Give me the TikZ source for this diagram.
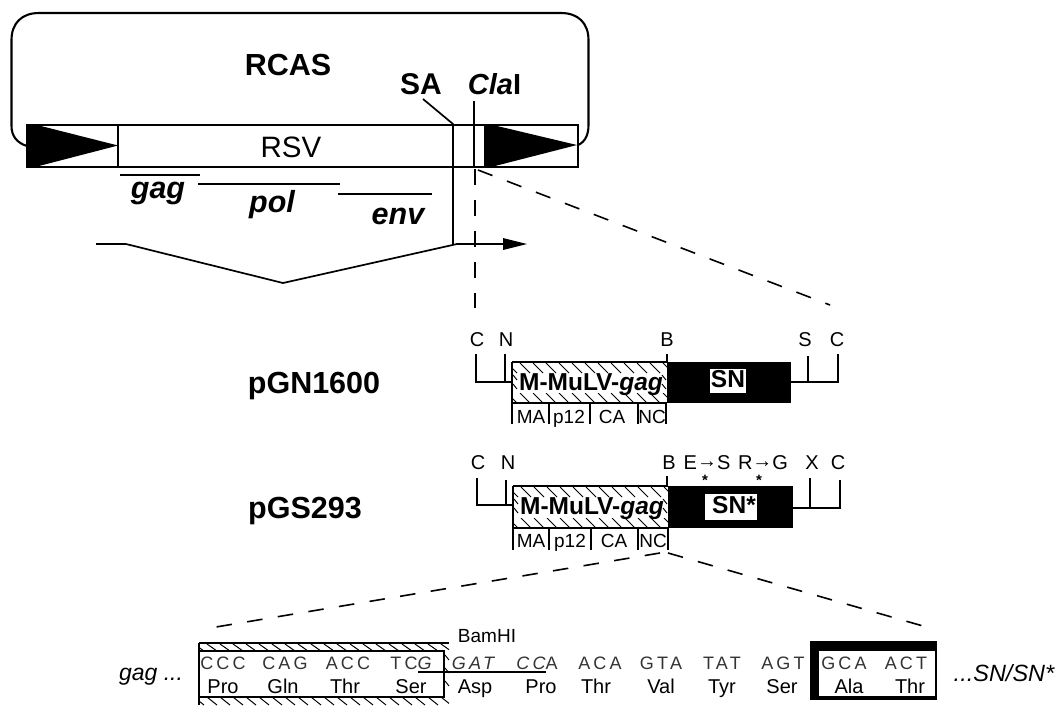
\documentclass[tikz,border=0pt]{standalone}
\usepackage{fontspec}
\setmainfont{Liberation Sans}
\newfontfamily\seqfont[LetterSpace=18]{Liberation Sans}
\newcommand{\hatchrow}[4]{%
  \begin{scope}
    \clip (#1,#3) rectangle (#2,#4);
    \pgfmathsetmacro{\hstart}{#1-6}
    \pgfmathsetmacro{\hnext}{#1+7}
    \foreach \hx in {\hstart,\hnext,...,#2}
      \draw[hatchline] (\hx,#3) -- ++(10,#4-#3);
  \end{scope}}
\newcommand{\fs}[1]{\fontsize{#1}{#1}\selectfont}
\tikzset{
  lab/.style={inner sep=0pt,outer sep=0pt,anchor=base,text=black},
  hatchline/.style={line width=1pt},
  line1/.style={line width=1.7pt,line join=miter},
  line2/.style={line width=2.1pt,line join=miter},
  zoomdash/.style={line width=1.6pt,dash pattern=on 15.5pt off 15.5pt},
  title/.style={lab,font=\fs{30.5}\bfseries},
  gene/.style={lab,font=\fs{30.5}\bfseries\itshape},
  site/.style={lab,font=\fs{20}},
  sub/.style={lab,font=\fs{19}},
  gagt/.style={lab,font=\fs{24.5}\bfseries},
  codon/.style={lab,font=\fs{18}\seqfont,text=black!80},
  amino/.style={lab,font=\fs{20}},
}
\begin{document}
\begin{tikzpicture}[x=1pt,y=-1pt]
\useasboundingbox (0,0) rectangle (1055,705);
\fill[white] (0,0) rectangle (1055,705);

% RCAS outline
\draw[line2] (27,146) .. controls (17,143) and (11.5,136) .. (11.5,126)
  -- (11.5,40) .. controls (11.5,23) and (22,13) .. (39,13)
  -- (561,13) .. controls (578,13) and (588.5,23) .. (588.5,40)
  -- (588.5,125) .. controls (588.5,135) and (585,142) .. (578,145);

% provirus bar
\draw[fill=white,line2] (27.5,125) rectangle (578,167);
\fill[black] (27.5,125) rectangle (39,167);
\fill[black] (39,125.5) -- (118,145.5) -- (39,166) -- cycle;
\fill[black] (484,125) rectangle (495,167);
\fill[black] (495,125.5) -- (577,145) -- (495,166) -- cycle;
\draw[line1] (118,125) -- (118,167);

\node[title] (rcas) at (288,75) {RCAS};
\node[lab,font=\fs{30}\bfseries] (sa) at (421,94) {SA};
\node[lab,font=\fs{29}\bfseries] (cla) at (494.5,94) {\itshape Cla\upshape I};
\node[lab,font=\fs{29.5}] (rsv) at (291,157) {RSV};
\node[gene] (gag) at (158,198) {gag};
\node[gene] (pol) at (272,212) {pol};
\node[gene] (env) at (398,224) {env};

\draw[line1] (120,175) -- (200,175);
\draw[line1] (198,184) -- (340,184);
\draw[line1] (338,194) -- (432,194);

\coordinate (saT) at (423,99);
\coordinate (saB) at (453,124);
\coordinate (saE) at (453,244);
\coordinate (claT) at (474,101);
\coordinate (claB) at (474,167);
\coordinate (claS) at (475,169);
\coordinate (claE) at (475,308);
\coordinate (zoomR) at (830,305);
\coordinate (zoomS) at (478,170);
\draw[line1] (saT) -- (saB) -- (saE);
\draw[line1] (claT) -- (claB);
\draw[zoomdash] (claS) -- (claE);
\draw[zoomdash] (zoomS) -- (zoomR);

% splice
\draw[line1] (96,244) -- (126,244) -- (283,283) -- (457,244) -- (503,244);
\fill[black] (503,238) -- (527,244) -- (503,250) -- cycle;

% pGN1600
\node[title] (pgn) at (314,393) {pGN1600};
\foreach \x/\t/\n in {477/C/a,506/N/b,667/B/c,805/S/d,837/C/e}
  \node[site] (gn\n) at (\x,346) {\t};
\draw[line1] (476,354) -- (476,382) -- (512,382);
\draw[line1] (505,354) -- (505,382);
\draw[line1] (667,354) -- (667,362);
\draw[line1] (791,382) -- (838,382) -- (838,354);
\draw[line1] (808,356) -- (808,382);
\hatchrow{513}{667}{363}{373}
\hatchrow{513}{667}{393}{403}
\foreach \hy in {375,384}
  \draw[hatchline] (513,\hy) -- ++(4,5) (662,\hy) -- ++(4,5);
\draw[line2] (512,362) -- (667,362);
\draw[line1] (512,362) -- (512,403) -- (667,403);
\fill[black] (667,362) rectangle (791,403);
\fill[white] (710,369) rectangle (746,393);
\node[gagt] (gn1) at (591,390) {M-MuLV-\itshape gag};
\node[gagt] (gn2) at (728,387) {SN};
\foreach \x in {512,549,590,638,666}
  \draw[line1] (\x,403) -- (\x,424);
\foreach \x/\t/\n in {531/MA/a,569/p12/b,612/CA/c,652/NC/d}
  \node[sub] (gns\n) at (\x,423) {\t};

% pGS293
\node[title] (pgs) at (305,518) {pGS293};
\foreach \x/\t/\n in {478/C/a,508/N/b,669/B/c,812/X/f,838/C/g}
  \node[site] (gs\n) at (\x,469) {\t};
\node[site] (gsd) at (707,469) {E\raisebox{1.5pt}{→}S};
\node[site] (gse) at (763,469) {R\raisebox{1.5pt}{→}G};
\foreach \x/\n in {705/a,759/b}
  \node[lab,font=\fs{15}\bfseries] (st\n) at (\x,485.5) {*};
\draw[line1] (477,478) -- (477,505) -- (513,505);
\draw[line1] (506,480) -- (506,505);
\draw[line1] (667,476) -- (667,486);
\draw[line1] (793,508) -- (840,508) -- (840,480);
\draw[line1] (810,478) -- (810,508);
\hatchrow{514}{668}{487}{497}
\hatchrow{514}{668}{518}{528}
\foreach \hy in {499,508}
  \draw[hatchline] (514,\hy) -- ++(4,5) (663,\hy) -- ++(4,5);
\draw[line2] (513,486) -- (668,486);
\draw[line1] (513,486) -- (513,528) -- (668,528);
\fill[black] (668,486) rectangle (793,528);
\fill[white] (705,494) rectangle (757,520);
\node[gagt] (gs1) at (592,514) {M-MuLV-\itshape gag};
\node[gagt] (gs2) at (734,513) {SN*};
\foreach \x in {513,549,591,638,668}
  \draw[line1] (\x,528) -- (\x,550);
\foreach \x/\t/\n in {531/MA/a,570/p12/b,614/CA/c,653/NC/d}
  \node[sub] (gss\n) at (\x,547) {\t};

% zoom dashes to the sequence
\coordinate (bL) at (216,627);
\coordinate (bM1) at (660,553);
\coordinate (bM2) at (668,553);
\coordinate (bR) at (923,626);
\draw[zoomdash] (bM1) -- (bL);
\draw[zoomdash] (bM2) -- (bR);

% hatched box of the sequence
\hatchrow{200}{449}{644}{651}
\hatchrow{200}{449}{697}{705}
\foreach \hy in {655,668,681}
  \draw[hatchline] (445,\hy) -- (449,\hy+5);
\draw[line2] (199,643) -- (449,643);
\draw[line2] (199,651) rectangle (444,697);
\draw[line1] (199,643) -- (199,705);

% black box of the sequence
\fill[black] (810,641) rectangle (937,700);
\fill[white] (819,651) rectangle (935,696);

\node[site,font=\fs{19}] (bam) at (487,642) {BamHI};
\node[lab,font=\fs{23}\itshape] (gl) at (151,680.5) {gag ...};
\node[lab,font=\fs{23.5}\itshape] (sr) at (1004,681) {...SN/SN*};

\foreach \x/\t/\n in {223/CCC/a,285/CAG/b,348/ACC/c,411/TC{\itshape G}/d,473/{\itshape GAT}/e,537/{\itshape CC}A/f,600/ACA/g,661/GTA/h,722/TAT/i,783/AGT/j,844/GCA/k,906/ACT/l}
  \node[codon] (cod\n) at (\x,669) {\t};
\foreach \x/\t/\n in {223/Pro/a,283/Gln/b,345/Thr/c,411/Ser/d,475/Asp/e,541/Pro/f,596/Thr/g,661/Val/h,722/Tyr/i,782/Ser/j,849/Ala/k,910/Thr/l}
  \node[amino] (aa\n) at (\x,693) {\t};
\draw[line width=1.1pt] (418,672) -- (546,672);
\end{tikzpicture}
\end{document}
